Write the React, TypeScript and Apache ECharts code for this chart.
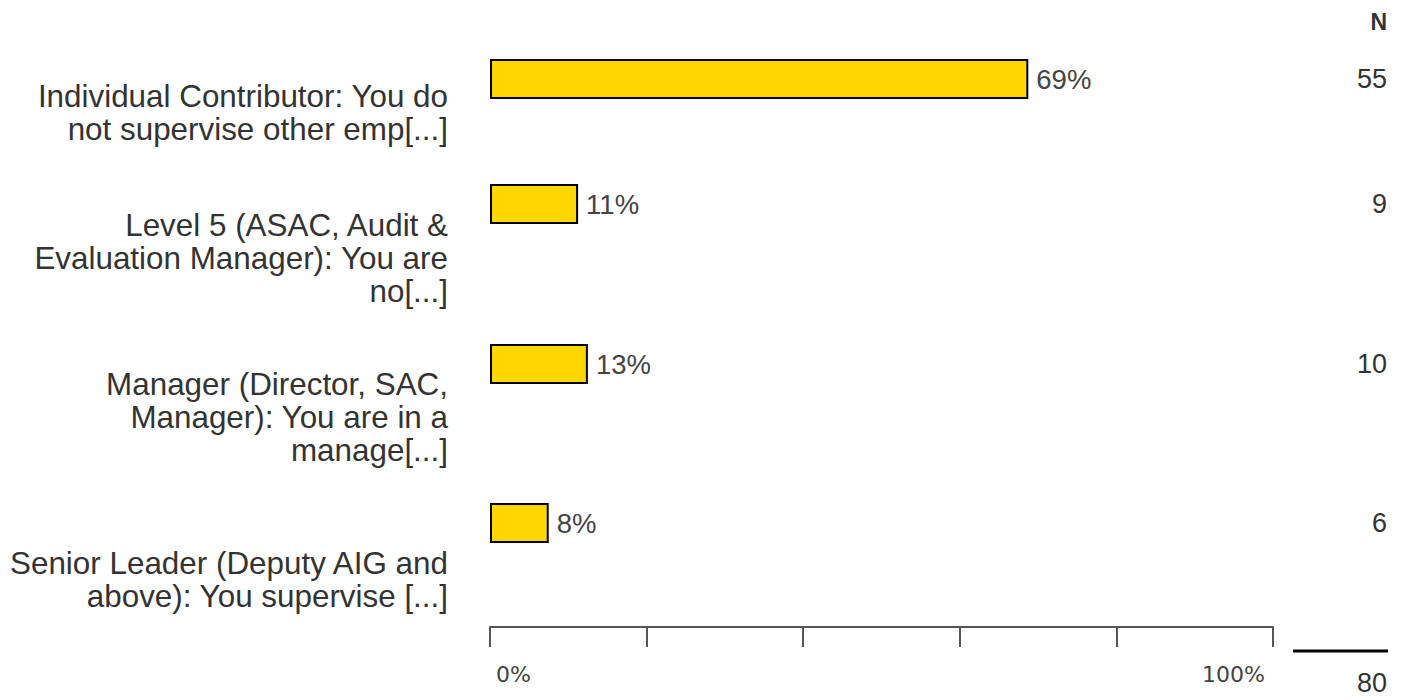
import React, { useEffect, useRef } from "react";
import * as echarts from "echarts";

const categories = [
  "Individual Contributor: You do\nnot supervise other emp[...]",
  "Level 5 (ASAC, Audit &\nEvaluation Manager): You are\nno[...]",
  "Manager (Director, SAC,\nManager): You are in a\nmanage[...]",
  "Senior Leader (Deputy AIG and\nabove): You supervise [...]",
];
const percents = [68.75, 11.25, 12.5, 7.5];
const counts = [55, 9, 10, 6];
const totalN = 80;
const axisTickLabels: Record<number, string> = { 0: "0%", 100: "100%" };

// layout
const rowCenters = [79, 204, 364, 523];
const labelPadTop = [1, 5, 4, 24];
const barH = 40;
const gridLeft = 490;
const gridRight = 135;
const axisY = 627;

const FONT = "Arial, 'Liberation Sans', sans-serif";

export default function App() {
  const ref = useRef<HTMLDivElement>(null);
  useEffect(() => {
    if (!ref.current) return;
    const chart = echarts.init(ref.current, undefined, { renderer: "svg" });
    const grids: any[] = [];
    const xAxes: any[] = [];
    const yAxes: any[] = [];
    const series: any[] = [];
    categories.forEach((cat, i) => {
      const top = rowCenters[i] - barH / 2;
      grids.push({ left: gridLeft, right: gridRight, top, height: barH });
      const isLast = i === categories.length - 1;
      xAxes.push({
        gridIndex: i,
        type: "value",
        min: 0,
        max: 100,
        interval: 20,
        show: isLast,
        position: "bottom",
        offset: isLast ? axisY - (top + barH) : 0,
        axisLine: { show: true, lineStyle: { color: "#555", width: 2 } },
        axisTick: { show: true, length: 20, lineStyle: { color: "#555", width: 2 } },
        splitLine: { show: false },
        axisLabel: {
          show: isLast,
          margin: 36,
          fontFamily: "'DejaVu Sans', Verdana, sans-serif",
          fontSize: 22,
          color: "#444",
          showMinLabel: true,
          showMaxLabel: true,
          alignMinLabel: "left",
          alignMaxLabel: "right",
          padding: [0, 8, 0, 6],
          formatter: (v: number) => axisTickLabels[v] ?? "",
        },
      });
      yAxes.push({
        gridIndex: i,
        type: "category",
        data: [cat],
        position: "left",
        axisLine: { show: false },
        axisTick: { show: false },
        splitLine: { show: false },
        axisLabel: {
          margin: 42,
          align: "right",
          verticalAlign: "top",
          padding: [labelPadTop[i], 0, 0, 0],
          fontFamily: FONT,
          fontSize: 31.4,
          lineHeight: 33,
          color: "#333",
        },
      });
      yAxes.push({
        gridIndex: i,
        type: "category",
        data: [String(counts[i])],
        position: "right",
        axisLine: { show: false },
        axisTick: { show: false },
        splitLine: { show: false },
        axisLabel: {
          margin: 114,
          align: "right",
          fontFamily: FONT,
          fontSize: 27,
          color: "#333",
        },
      });
      series.push({
        type: "bar",
        xAxisIndex: i,
        yAxisIndex: i * 2,
        data: [percents[i]],
        barCategoryGap: 0,
        barWidth: barH,
        itemStyle: { color: "#FFD700", borderColor: "#000", borderWidth: 2 },
        label: {
          show: true,
          position: "right",
          distance: 8,
          fontFamily: FONT,
          fontSize: 27.5,
          color: "#444",
          formatter: (p: any) => Math.round(p.value) + "%",
        },
      });
    });

    chart.setOption({
      animation: false,
      backgroundColor: "#fff",
      grid: grids,
      xAxis: xAxes,
      yAxis: yAxes,
      series,
      graphic: [
        {
          type: "text",
          right: 21,
          top: 10,
          style: { text: "N", font: `bold 23px ${FONT}`, fill: "#333" },
        },
        {
          type: "line",
          shape: { x1: 1293, y1: 651, x2: 1388, y2: 651 },
          style: { stroke: "#000", lineWidth: 3 },
        },
        {
          type: "text",
          right: 21,
          top: 669,
          style: { text: String(totalN), font: `27px ${FONT}`, fill: "#333" },
        },
      ],
    });
    return () => chart.dispose();
  }, []);
  return (
    <div
      ref={ref}
      style={{ position: "fixed", left: 0, top: 0, width: 1408, height: 700 }}
    />
  );
}
